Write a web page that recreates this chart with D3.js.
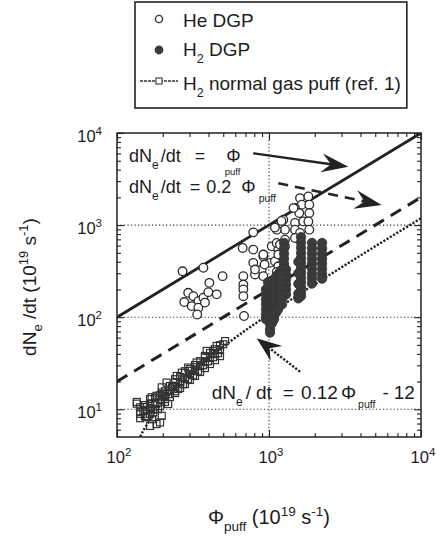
<!DOCTYPE html>
<html><head><meta charset="utf-8">
<script src="https://cdn.jsdelivr.net/npm/d3@7"></script>
<style>
body{margin:0;background:#fff}
svg{display:block}
text{font-family:"Liberation Sans",Arial,sans-serif;fill:#1c1c1c}
</style>
</head><body><svg id="c" width="439" height="538"></svg>
<script>
// ---------- data ----------
const xMajor = [100, 1000, 10000];
const yMajor = [10, 100, 1000, 10000];
const xTickLabels = ["2", "3", "4"];
const yTickLabels = ["1", "2", "3", "4"];
const gridX = [1000];
const gridY = [10, 100, 1000];

// He DGP (open circles)
const heX = [270,370,495,294,277,318,343,370,399,405,453,310,343,379,337,
  678,678,678,678,685,671,788,788,788,918,895,809,918,1043,1016,1094,1124,1151,1151,
  1242,1274,1274,1124,1274,1242,1124,1600,1641,1483,1581,1483,1683,1483,1600,1483,
  1815,1841,1841,1815,1841,809,918,935,1124,1151,1094,1208,1181,1450];
const heY = [315,344,279,184,146,169,149,163,187,236,177,132,127,144,107,
  279,226,200,169,103,565,834,542,389,458,329,291,279,588,389,405,279,542,357,
  1144,892,695,892,588,458,640,1965,1662,1531,1352,1054,1097,892,822,725,
  2045,1662,1352,1097,892,329,479,373,310,479,940,1110,614,1530];

// H2 DGP (filled circles)
const h2X = [2234,2234,2234,2234,2234,2234,2234,2234,
  1918,1918,1918,1918,1918,1918,1918,1918,1918,
  1625,1625,1625,1625,1625,1625,1625,1625,1625,1625,1625,1625,1625,
  1560,1560,1560,1560,1560,
  1256,1256,1256,1256,1256,1256,1256,1256,1256,
  1294,1294,1294,1294,1294,1294,
  955,955,955,955,955,955,955,
  985,985,985,985,985,985,985,985,
  1016,1016,1016,1016,1016,1016,1016,1016,1016,1016,1016,
  1047,1047,1047,1047,1047,1047,1047,1047,1047,
  1079,1079,1079,1079,1079,1079,1079,1079,
  1112,1112,1112,1112,1112,1112,1112,1112,
  1146,1146,1146,1146,1146,1146,1146,1146,
  1181,1181,1181,1181,1181,1181,1181,
  1218,1218,1218,1218,1218,1218,1218,1218];
const h2Y = [640,560,490,430,380,335,295,262,
  640,560,490,430,380,335,295,262,232,
  740,650,570,500,440,390,345,305,270,240,212,190,170,
  400,300,230,180,160,
  640,560,490,430,380,335,295,262,232,
  330,290,255,225,200,177,
  200,177,156,138,121,107,95,
  240,210,185,165,146,128,113,100,
  226,200,177,156,138,121,107,95,84,74,68,
  250,215,188,165,146,128,112,98,86,
  226,200,177,156,138,121,107,95,
  275,240,210,185,165,146,128,112,
  291,257,226,200,177,156,138,121,
  310,270,240,212,188,165,145,
  329,291,257,226,200,177,156,138];

// H2 normal gas puff (squares)
const puffX = [135,135,149,161,182,165,173,165,169,165,182,197,197,202,197,192,212,234,241,247,267,294,302,334,379,389,430,453,500,514,
  142,153,178,186,207,217,223,252,272,293,316,341,368,397,428,462,260,230,198,165,155,170,280,326,241,
  142,153,165,178,192,207,223,241,260,280,302,326,352,379,409,441,476,
  142,153,165,178,192,207,223,241,260,280,302,326,352,379,409,441,476,
  142,153,165,178,192,207,223,241,260,280,302,326,352,379,409,441,476];
const puffY = [11.5,12,9.6,8.2,6.9,6.6,9.2,12.9,13.5,11.4,14,15.2,17.3,14.6,8.5,7.2,19.5,18,21.2,23,25,28.4,26.1,32.2,37.9,43,43,48.7,50.8,55,
  8.9,10.6,11.4,10,12.9,11.4,14.6,16.6,18.7,21.2,23.4,25.9,30,33.2,36.7,40.6,19.7,17.3,13.7,10,8.3,7.8,25.9,28.6,15.7,
  9.3,9.8,10.3,11.7,12.6,13.9,15.8,17.5,19.8,21.9,24.2,26.7,29.5,32.6,36.1,39.8,44,
  8.0,8.4,8.9,10.1,10.8,12,13.6,15,17,18.8,20.8,23,25.4,28,31,34.2,37.8,
  10.5,11.1,11.6,13.2,14.2,15.7,17.9,19.8,22.4,24.7,27.3,30.2,33.3,36.8,40.8,45,49.7];

// reference lines
const line1X = [100, 10000], line1Y = [100, 10000];          // dNe/dt = Phi
const line2X = [100, 10000], line2Y = [20, 2000];            // dNe/dt = 0.2 Phi
const fitX = [142,150,175,200,250,300,400,500,700,1000,1500,2000,3000,5000,7000,10000];
const fitY = [5.04,6,9,12,18,24,36,48,72,108,168,228,348,588,828,1188]; // 0.12 Phi - 12

// annotation anchors (data coords)
const arrow1 = [[788, 6025], [3327, 4306]];
const arrow2 = [[1151, 2844], [5508, 1653]];
const arrow3 = [[1600, 25.6], [830, 59]];
const text1 = [120, 4842], text2 = [120, 2233], text3 = [420, 12.8];

// ---------- chart ----------
const svg = d3.select("#c");
const L = 117, R = 421, T = 133, B = 437;
const x = d3.scaleLog().domain([100, 10000]).range([L, R]);
const y = d3.scaleLog().domain([5, 10000]).range([B, T]);
const ink = "#222";

svg.append("defs").append("clipPath").attr("id","clip")
  .append("rect").attr("x",L).attr("y",T).attr("width",R-L).attr("height",B-T);

// grid
const grid = svg.append("g").attr("stroke","#333").attr("stroke-width",1.1).attr("stroke-dasharray","1.2,2.3");
grid.selectAll(".gx").data(gridX).join("line").attr("x1",d=>x(d)).attr("x2",d=>x(d)).attr("y1",T).attr("y2",B);
grid.selectAll(".gy").data(gridY).join("line").attr("y1",d=>y(d)).attr("y2",d=>y(d)).attr("x1",L).attr("x2",R);

// minor ticks
function minors(scale){
  const [a,b] = scale.domain(); const out=[];
  for (let d=1; d<=b; d*=10) for (let k=2;k<=9;k++){ const v=k*d; if(v>a&&v<b) out.push(v);} return out;
}
const xMinor = minors(x), yMinor = minors(y);
function axes(vals, size){
  svg.append("g").attr("transform",`translate(0,${B})`).call(d3.axisBottom(x).tickValues(vals.x).tickSizeInner(-size).tickSizeOuter(0).tickFormat(""));
  svg.append("g").attr("transform",`translate(0,${T})`).call(d3.axisTop(x).tickValues(vals.x).tickSizeInner(-size).tickSizeOuter(0).tickFormat(""));
  svg.append("g").attr("transform",`translate(${L},0)`).call(d3.axisLeft(y).tickValues(vals.y).tickSizeInner(-size).tickSizeOuter(0).tickFormat(""));
  svg.append("g").attr("transform",`translate(${R},0)`).call(d3.axisRight(y).tickValues(vals.y).tickSizeInner(-size).tickSizeOuter(0).tickFormat(""));
}
axes({x:xMinor, y:yMinor}, 4);
axes({x:xMajor, y:yMajor}, 7);
svg.selectAll(".domain").remove();
svg.selectAll(".tick line").attr("stroke",ink).attr("stroke-width",1.1);

// frame
svg.append("rect").attr("x",L).attr("y",T).attr("width",R-L).attr("height",B-T)
  .attr("fill","none").attr("stroke",ink).attr("stroke-width",1.5);

// tick labels
function pow(g, base, exp){
  g.text(base); g.append("tspan").attr("dy",-7).attr("font-size",11.5).text(exp);
}
xMajor.forEach((v,i)=>{
  const t = svg.append("text").attr("x",x(v)+2).attr("y",463).attr("text-anchor","middle").attr("font-size",16.5);
  pow(t,"10",xTickLabels[i]);
});
yMajor.forEach((v,i)=>{
  const t = svg.append("text").attr("x",102).attr("y",y(v)+9).attr("text-anchor","end").attr("font-size",16.5);
  pow(t,"10",yTickLabels[i]);
});

// axis titles
const yt = svg.append("text").attr("transform","translate(36,287) rotate(-90)").attr("text-anchor","middle").attr("font-size",19);
yt.append("tspan").text("dN");
yt.append("tspan").attr("dy",6).attr("font-size",13).text("e");
yt.append("tspan").attr("dy",-6).text(" /dt (10");
yt.append("tspan").attr("dy",-8).attr("font-size",13).text("19");
yt.append("tspan").attr("dy",8).text(" s");
yt.append("tspan").attr("dy",-8).attr("font-size",13).text("-1");
yt.append("tspan").attr("dy",8).text(")");

const xt = svg.append("text").attr("x",269).attr("y",524).attr("text-anchor","middle").attr("font-size",20);
xt.append("tspan").text("Φ");
xt.append("tspan").attr("dy",7).attr("font-size",13.5).text("puff");
xt.append("tspan").attr("dy",-7).text(" (10");
xt.append("tspan").attr("dy",-8).attr("font-size",13.5).text("19");
xt.append("tspan").attr("dy",8).text(" s");
xt.append("tspan").attr("dy",-8).attr("font-size",13.5).text("-1");
xt.append("tspan").attr("dy",8).text(")");

// lines
const plot = svg.append("g").attr("clip-path","url(#clip)");
const lg = d3.line().x(d=>x(d[0])).y(d=>y(d[1]));
plot.append("path").attr("d",lg(d3.zip(line1X,line1Y))).attr("fill","none").attr("stroke",ink).attr("stroke-width",2.8);
plot.append("path").attr("d",lg(d3.zip(line2X,line2Y))).attr("fill","none").attr("stroke",ink).attr("stroke-width",3).attr("stroke-dasharray","12,8");
plot.append("path").attr("d",lg(d3.zip(fitX,fitY))).attr("fill","none").attr("stroke",ink).attr("stroke-width",2.4).attr("stroke-dasharray","2.2,1.6");

// points
plot.selectAll(".sq").data(d3.zip(puffX,puffY)).join("rect")
  .attr("x",d=>x(d[0])-3.5).attr("y",d=>y(d[1])-3.5).attr("width",7).attr("height",7)
  .attr("fill","none").attr("stroke","#333").attr("stroke-width",1.2);
plot.selectAll(".he").data(d3.zip(heX,heY)).join("circle")
  .attr("cx",d=>x(d[0])).attr("cy",d=>y(d[1])).attr("r",4.3)
  .attr("fill","#fff").attr("stroke","#2a2a2a").attr("stroke-width",1.3);
plot.selectAll(".h2").data(d3.zip(h2X,h2Y)).join("circle")
  .attr("cx",d=>x(d[0])).attr("cy",d=>y(d[1])).attr("r",4.7)
  .attr("fill","#3b3b3b").attr("stroke","#333").attr("stroke-width",0.8);

// arrows
function arrow(pts, dash, len, hw, sw){
  const [x0,y0] = [x(pts[0][0]), y(pts[0][1])];
  const [x1,y1] = [x(pts[1][0]), y(pts[1][1])];
  const dx=x1-x0, dy=y1-y0, m=Math.hypot(dx,dy), ux=dx/m, uy=dy/m, nx=-uy, ny=ux;
  const bx=x1-ux*len, by=y1-uy*len, kx=x1-ux*len*0.65, ky=y1-uy*len*0.65;
  svg.append("line").attr("x1",x0).attr("y1",y0).attr("x2",kx).attr("y2",ky)
    .attr("stroke",ink).attr("stroke-width",sw).attr("stroke-dasharray",dash);
  svg.append("path").attr("d",`M${x1},${y1}L${bx+nx*hw},${by+ny*hw}L${kx},${ky}L${bx-nx*hw},${by-ny*hw}Z`)
    .attr("fill",ink);
}
arrow(arrow1, null, 27, 9.5, 2.4);
arrow(arrow2, "10,7", 27, 9.5, 2.6);
arrow(arrow3, "2.2,1.6", 25, 9.5, 2.4);

// annotations
function eqText(pos, fs, parts){
  const t = svg.append("text").attr("x",x(pos[0])).attr("y",y(pos[1])).attr("font-size",fs);
  parts.forEach(p=>{
    const s = t.append("tspan").text(p.t);
    if (p.dy) s.attr("dy",p.dy);
    if (p.dx) s.attr("dx",p.dx);
    if (p.fs) s.attr("font-size",p.fs);
  });
}
eqText(text1, 18, [{t:"dN"},{t:"e",dy:7,fs:12},{t:"/dt",dy:-7,dx:2},{t:"=",dx:14},{t:"Φ",dx:21},{t:"puff",dy:12.5,dx:-16,fs:9.5}]);
eqText(text2, 18, [{t:"dN"},{t:"e",dy:7,fs:12},{t:"/dt",dy:-7,dx:2},{t:"=",dx:9},{t:"0.2",dx:6},{t:"Φ",dx:10},{t:"puff",dy:9,dx:3,fs:10.5}]);
eqText(text3, 19, [{t:"dN"},{t:"e",dy:7,fs:12},{t:"/",dy:-7,dx:3},{t:"dt",dx:5},{t:"=",dx:11},{t:"0.12",dx:7},{t:"Φ",dx:3},{t:"puff",dy:9,dx:2,fs:10.5},{t:"-",dy:-9,dx:7},{t:"12",dx:5}]);

// legend
const leg = svg.append("g");
const legRect = leg.append("rect").attr("x",135).attr("y",2).attr("height",106)
  .attr("fill","#fff").attr("stroke",ink).attr("stroke-width",1.6);
leg.append("circle").attr("cx",159).attr("cy",19).attr("r",3.6).attr("fill","#fff").attr("stroke","#333").attr("stroke-width",1.4);
leg.append("circle").attr("cx",159).attr("cy",50).attr("r",4.4).attr("fill","#3b3b3b");
leg.append("line").attr("x1",140).attr("x2",178).attr("y1",81).attr("y2",81).attr("stroke","#333").attr("stroke-width",1.4).attr("stroke-dasharray","3,1");
leg.append("rect").attr("x",156).attr("y",78).attr("width",6).attr("height",6).attr("fill","#fff").attr("stroke","#333").attr("stroke-width",1.1);
leg.append("text").attr("x",183).attr("y",27).attr("font-size",19).text("He DGP");
const l2 = leg.append("text").attr("x",183).attr("y",56).attr("font-size",19);
l2.append("tspan").text("H"); l2.append("tspan").attr("dy",7).attr("font-size",12.5).text("2"); l2.append("tspan").attr("dy",-7).text(" DGP");
const l3 = leg.append("text").attr("x",183).attr("y",90).attr("font-size",19);
l3.append("tspan").text("H"); l3.append("tspan").attr("dy",7).attr("font-size",12.5).text("2"); l3.append("tspan").attr("dy",-7).text(" normal gas puff (ref. 1)");
const bb = l3.node().getBBox();
legRect.attr("width", bb.x + bb.width + 6 - 135);
</script></body></html>
